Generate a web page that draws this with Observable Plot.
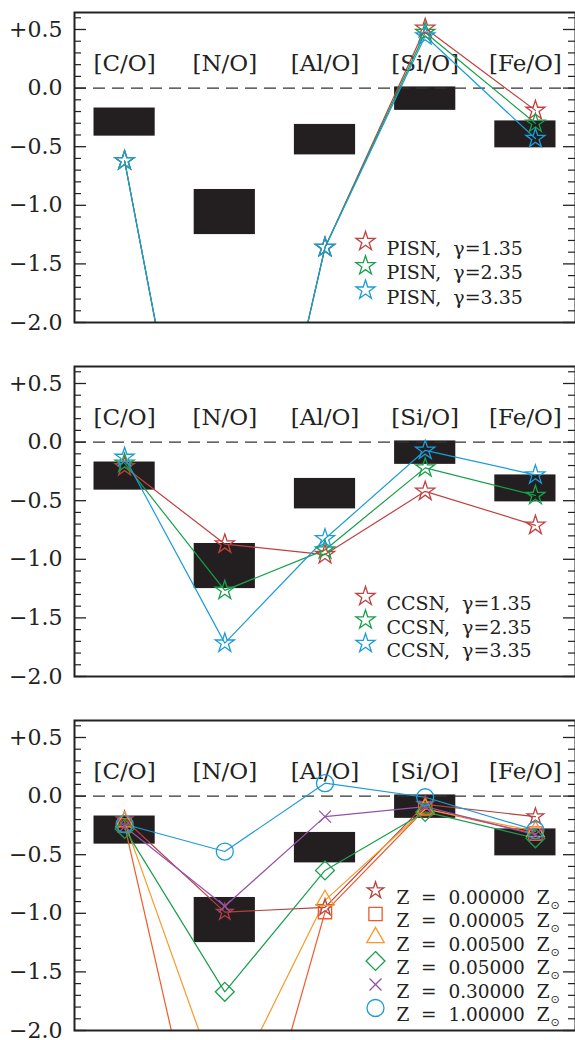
<!DOCTYPE html>
<html><head><meta charset="utf-8">
<script src="https://cdn.jsdelivr.net/npm/d3@7"></script>
<script src="https://cdn.jsdelivr.net/npm/@observablehq/plot@0.6"></script>
<style>
body{margin:0;background:#fff;}
#chart{width:575px;height:1040px;overflow:hidden;}
#chart svg{display:block;}
#chart svg text{white-space:pre;}
</style></head><body><div id="chart"></div>
<script>
// ---- data ----
const ratios = ["[C/O]", "[N/O]", "[Al/O]", "[Si/O]", "[Fe/O]"];
const ratioIndex = [1, 2, 3, 4, 5];
const modelIndex = [1, 2, 3, 4, 5.1];
const obsLow  = [-0.41, -1.25, -0.57, -0.19, -0.51];
const obsHigh = [-0.17, -0.865, -0.31, 0.01, -0.28];
const yTicks = [-2, -1.5, -1, -0.5, 0, 0.5];
const yTickLabels = ["−2.0", "−1.5", "−1.0", "−0.5", "0.0", "+0.5"];
const yMinorTicks = d3.range(-20, 7).map(i => i / 10).filter(v => !yTicks.some(t => Math.abs(t - v) < 1e-9));

// panel 1: PISN
const pisnNames = ["PISN,  γ=1.35", "PISN,  γ=2.35", "PISN,  γ=3.35"];
const pisn135 = [-0.62, -5.1, -1.36, 0.51, -0.19];
const pisn235 = [-0.62, -5.1, -1.36, 0.475, -0.30];
const pisn335 = [-0.62, -5.1, -1.36, 0.445, -0.43];

// panel 2: CCSN
const ccsnNames = ["CCSN,  γ=1.35", "CCSN,  γ=2.35", "CCSN,  γ=3.35"];
const ccsn135 = [-0.21, -0.87, -0.96, -0.42, -0.71];
const ccsn235 = [-0.18, -1.265, -0.92, -0.22, -0.455];
const ccsn335 = [-0.13, -1.715, -0.825, -0.07, -0.28];

// panel 3: metallicity
const zNames = ["Z  =  0.00000  Z⊙", "Z  =  0.00005  Z⊙", "Z  =  0.00500  Z⊙",
                "Z  =  0.05000  Z⊙", "Z  =  0.30000  Z⊙", "Z  =  1.00000  Z⊙"];
const z0     = [-0.20, -0.99, -0.95, -0.07, -0.175];
const z5em5  = [-0.25, -4.0, -0.99, -0.11, -0.32];
const z5em3  = [-0.22, -2.62, -0.89, -0.11, -0.30];
const z5em2  = [-0.28, -1.67, -0.634, -0.135, -0.36];
const z0p3   = [-0.26, -0.94, -0.175, -0.09, -0.33];
const z1     = [-0.24, -0.473, 0.11, -0.01, -0.29];

// ---- style ----
const W = 575, H = 354, ML = 74, MR = 0, MT = 12, MB = 32;
const frameW = W - ML - MR;
const FONT = "DejaVu Serif";
const gammaColors = ["#c0403f", "#17a04a", "#1b9cd8"];
const zColors = ["#b5403f", "#f05a28", "#f8992a", "#1a9f4d", "#9652a8", "#1b9bd7"];
const zSymbols = ["star", "square", "triangle", "diamond2", "times", "circle"];
const zR = [5.2, 7.5, 6.5, 8.5, 5.5, 8.5];

function panel(series, leg) {
  const obs = ratioIndex.map((x, i) => ({x1: x - 0.5, x2: x + 0.5, y1: obsLow[i], y2: obsHigh[i]}));
  const marks = [
    Plot.rect(obs, {x1: "x1", x2: "x2", y1: "y1", y2: "y2", fill: "#231f20", insetLeft: 19.5, insetRight: 19.5}),
    Plot.ruleY([0], {stroke: "#333", strokeWidth: 1.3, strokeDasharray: "12,7"}),
    Plot.text(ratios, {x: (d, i) => ratioIndex[i], text: d => d, frameAnchor: "top", dy: 42,
      fontSize: 23, fontFamily: FONT, fill: "#222", textAnchor: "middle", letterSpacing: 0.6})
  ];
  for (const s of series) {
    const pts = s.values.map((v, i) => ({x: modelIndex[i], y: v}));
    marks.push(Plot.line(pts, {x: "x", y: "y", stroke: s.color, strokeWidth: 1.2, clip: true}));
  }
  for (const s of series) {
    const pts = s.values.map((v, i) => ({x: modelIndex[i], y: v}));
    marks.push(Plot.dot(pts, {x: "x", y: "y", symbol: s.symbol, r: s.r, stroke: s.color, fill: "none", strokeWidth: 1.3, clip: true}));
  }
  series.forEach((s, k) => {
    marks.push(Plot.dot([0], {frameAnchor: "top-left", dx: leg.mx, dy: leg.y0 + k * leg.dy,
      symbol: s.symbol, r: s.r, stroke: s.color, fill: "none", strokeWidth: 1.3}));
    marks.push(Plot.text([s.name], {frameAnchor: "top-left", dx: leg.tx, dy: leg.y0 + k * leg.dy,
      text: d => d, textAnchor: "start", fontSize: leg.fs, fontFamily: FONT, fill: "#222"}));
  });
  marks.push(
    Plot.axisY(yTicks, {tickSize: 0, tickPadding: 12, fontSize: 22, fontFamily: FONT,
      tickFormat: d => yTickLabels[yTicks.indexOf(d)]}),
    Plot.ruleY(yTicks, {insetRight: frameW - 12, stroke: "#222", strokeWidth: 1.3}),
    Plot.ruleY(yTicks, {insetLeft: frameW - 12, stroke: "#222", strokeWidth: 1.3}),
    Plot.ruleY(yMinorTicks, {insetRight: frameW - 7, stroke: "#222", strokeWidth: 1.2}),
    Plot.ruleY(yMinorTicks, {insetLeft: frameW - 7, stroke: "#222", strokeWidth: 1.2}),
    Plot.frame({stroke: "#222", strokeWidth: 2})
  );
  const svg = Plot.plot({
    width: W, height: H, marginLeft: ML, marginRight: MR, marginTop: MT, marginBottom: MB,
    style: {fontFamily: FONT, color: "#222", background: "#fff", overflow: "visible"},
    x: {domain: [0.5, 5.5], axis: null},
    y: {domain: [-2, 0.645]},
    marks
  });
  svg.querySelectorAll("text").forEach(t => {
    const s = t.textContent;
    if (s.endsWith("⊙") && t.children.length === 0) {
      t.textContent = s.slice(0, -1);
      const ts = document.createElementNS("http://www.w3.org/2000/svg", "tspan");
      ts.setAttribute("dy", "5");
      ts.setAttribute("dx", "1");
      ts.setAttribute("font-size", "11");
      ts.setAttribute("font-family", "DejaVu Sans");
      ts.textContent = "⊙";
      t.appendChild(ts);
    }
  });
  return svg;
}

const chart = document.getElementById("chart");
chart.appendChild(panel(
  [pisn135, pisn235, pisn335].map((v, k) => ({values: v, name: pisnNames[k], color: gammaColors[k], symbol: "star", r: 6})),
  {mx: 291, tx: 312, y0: 229, dy: 24.3, fs: 19}));
chart.appendChild(panel(
  [ccsn135, ccsn235, ccsn335].map((v, k) => ({values: v, name: ccsnNames[k], color: gammaColors[k], symbol: "star", r: 6})),
  {mx: 291, tx: 312, y0: 230, dy: 23.5, fs: 19}));
chart.appendChild(panel(
  [z0, z5em5, z5em3, z5em2, z0p3, z1].map((v, k) => ({values: v, name: zNames[k], color: zColors[k], symbol: zSymbols[k], r: zR[k]})),
  {mx: 301, tx: 322, y0: 170, dy: 23.5, fs: 18.5}));
</script></body></html>
